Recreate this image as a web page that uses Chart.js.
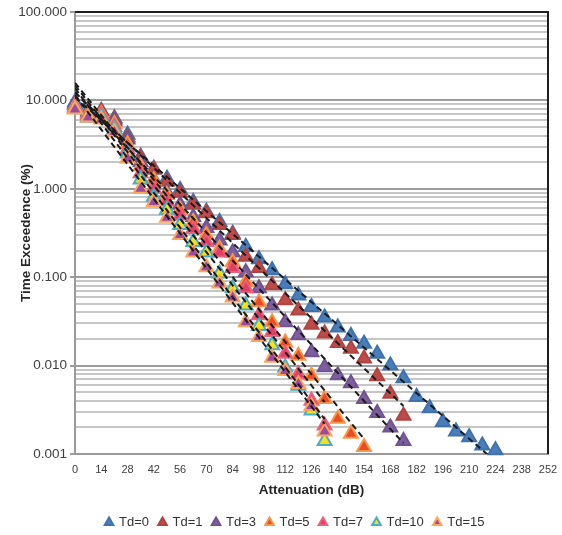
<!DOCTYPE html>
<html>
<head>
<meta charset="utf-8">
<script src="https://cdn.jsdelivr.net/npm/chart.js@4.4.0/dist/chart.umd.min.js"></script>
<style>
  html, body { margin: 0; padding: 0; background: #fff; }
</style>
</head>
<body>
<canvas id="attCanvas" width="562" height="535"></canvas>
<script>
const attenuationDb = [0, 7, 14, 21, 28, 35, 42, 49, 56, 63, 70, 77, 84, 91, 98, 105, 112, 119, 126, 133, 140, 147, 154, 161, 168, 175, 182, 189, 196, 203, 210, 217, 224];
const xTickValues = [0, 14, 28, 42, 56, 70, 84, 98, 112, 126, 140, 154, 168, 182, 196, 210, 224, 238, 252];
const yDecades = [0.001, 0.01, 0.1, 1, 10, 100];
const seriesNames = ["Td=0", "Td=1", "Td=3", "Td=5", "Td=7", "Td=10", "Td=15"];

// time exceedence (%) per series, one value every 7 dB from 0
const td0 = [9.5, 7.5, 7.6, 6.3, 4.1, 2.3, 1.69, 1.30, 0.97, 0.71, 0.55, 0.42, 0.31, 0.22, 0.16, 0.12, 0.083, 0.062, 0.046, 0.035, 0.027, 0.0216, 0.0177, 0.0136, 0.0100, 0.0072, 0.0044, 0.0033, 0.0023, 0.0018, 0.00155, 0.00125, 0.0011];
const td1 = [9.0, 7.2, 7.5, 6.1, 3.8, 2.25, 1.64, 1.20, 0.90, 0.66, 0.53, 0.39, 0.30, 0.17, 0.127, 0.081, 0.055, 0.042, 0.029, 0.023, 0.018, 0.0155, 0.012, 0.0076, 0.0048, 0.0027];
const td3 = [9.0, 6.4, 6.9, 5.8, 3.6, 2.0, 1.27, 0.90, 0.66, 0.48, 0.36, 0.26, 0.19, 0.114, 0.075, 0.048, 0.031, 0.022, 0.0142, 0.0096, 0.0078, 0.0063, 0.0042, 0.0029, 0.0020, 0.0014];
const td5 = [8.6, 7.0, 7.0, 5.4, 3.2, 1.8, 1.25, 0.85, 0.58, 0.42, 0.30, 0.21, 0.148, 0.088, 0.052, 0.031, 0.0183, 0.0129, 0.0077, 0.0042, 0.0025, 0.0017, 0.0012];
const td7 = [8.3, 6.8, 6.8, 5.0, 2.8, 1.5, 1.0, 0.72, 0.50, 0.35, 0.25, 0.19, 0.127, 0.075, 0.037, 0.024, 0.0136, 0.008, 0.0040, 0.0021];
const td10 = [8.0, 6.5, 6.4, 4.7, 2.5, 1.27, 0.81, 0.58, 0.39, 0.25, 0.19, 0.11, 0.075, 0.048, 0.028, 0.017, 0.0095, 0.0059, 0.0031, 0.0014];
const td15 = [7.9, 6.4, 6.1, 4.4, 2.2, 1.0, 0.71, 0.47, 0.30, 0.19, 0.13, 0.085, 0.059, 0.031, 0.021, 0.0123, 0.0087, 0.0062, 0.0035, 0.0018];
const seriesValues = [td0, td1, td3, td5, td7, td10, td15];

const markerFill = ["#4a7ebb", "#be4b48", "#7d5fa0", "#ec4c24", "#e23d62", "#f4e11a", "#9b4a9e"];
const markerEdge = ["#3f72ad", "#b04441", "#70548f", "#f79646", "#e9617c", "#4bacc6", "#f9a65c"];

Chart.defaults.font.family = "'Liberation Sans', Arial, sans-serif";

function isDecade(v) {
    const l = Math.log10(v);
    return Math.abs(l - Math.round(l)) < 1e-9;
}

// minor grid every 1..9 of each decade
const yGridValues = [];
yDecades.forEach((d, i) => {
    if (i === yDecades.length - 1) { yGridValues.push(d); return; }
    for (let k = 1; k <= 9; k++) yGridValues.push(+(d * k).toPrecision(6));
});

// exponential trendline, least squares on ln(y)
function expFit(xs, ys) {
    const n = ys.length;
    let sx = 0, sy = 0, sxx = 0, sxy = 0;
    for (let i = 0; i < n; i++) {
        const ly = Math.log(ys[i]);
        sx += xs[i]; sy += ly; sxx += xs[i] * xs[i]; sxy += xs[i] * ly;
    }
    const b = (n * sxy - sx * sy) / (n * sxx - sx * sx);
    const a = (sy - b * sx) / n;
    return x => Math.exp(a + b * x);
}

const markerSets = seriesValues.map((vals, i) => ({
    label: seriesNames[i],
    data: vals.map((v, j) => ({ x: attenuationDb[j], y: v })),
    pointStyle: "triangle",
    pointRadius: 8,
    pointHoverRadius: 8,
    pointBackgroundColor: markerFill[i],
    pointBorderColor: markerEdge[i],
    backgroundColor: markerFill[i],
    borderColor: markerEdge[i],
    pointBorderWidth: 2,
    showLine: false,
    clip: false,
    order: 20 - i
}));

const trendSets = seriesValues.map((vals, i) => {
    const xs = attenuationDb.slice(0, vals.length);
    const f = expFit(xs, vals);
    const xEnd = xs[xs.length - 1];
    return {
        label: "trend " + seriesNames[i],
        data: [{ x: 0, y: f(0) }, { x: xEnd, y: f(xEnd) }],
        showLine: true,
        borderColor: "#1b1b1b",
        borderWidth: 2,
        borderDash: [6, 4],
        pointRadius: 0,
        fill: false,
        order: 1
    };
});

const frame = {
    id: "frame",
    afterLayout(chart) {
        const lg = chart.legend;
        lg.left += 21; lg.right += 21;
        lg.top += 4; lg.bottom += 4;
    },
    beforeDatasetsDraw(chart) {
        const a = chart.chartArea, c = chart.ctx;
        c.save();
        c.strokeStyle = "#1e1e1e";
        c.lineWidth = 2;
        c.beginPath();
        c.moveTo(a.left, a.top);
        c.lineTo(a.right, a.top);
        c.lineTo(a.right, a.bottom);
        c.stroke();
        c.restore();
    }
};

const attCanvas = document.getElementById("attCanvas");

const attChart = new Chart(attCanvas, {
    type: "scatter",
    data: { datasets: markerSets.concat(trendSets) },
    plugins: [frame],
    options: {
        responsive: false,
        animation: false,
        layout: { padding: { top: 12, right: 14, bottom: 0, left: 0 } },
        plugins: {
            tooltip: { enabled: false },
            legend: {
                position: "bottom",
                labels: {
                    usePointStyle: true,
                    boxWidth: 7,
                    boxHeight: 7,
                    padding: 10,
                    color: "#333",
                    font: { size: 13 },
                    filter: item => item.datasetIndex < seriesNames.length,
                    sort: (a, b) => a.datasetIndex - b.datasetIndex
                }
            }
        },
        scales: {
            x: {
                type: "linear",
                min: 0,
                max: 252,
                afterBuildTicks: s => { s.ticks = xTickValues.map(v => ({ value: v })); },
                afterFit: s => { s.height = 48; },
                ticks: { autoSkip: false, maxRotation: 0, color: "#404040", font: { size: 11 }, padding: 4 },
                grid: { drawOnChartArea: false, tickLength: 5, tickColor: "rgba(0,0,0,0)" },
                border: { color: "#9a9a9a", width: 2 },
                title: {
                    display: true,
                    text: "Attenuation (dB)",
                    color: "#262626",
                    font: { size: 13.5, weight: "bold" },
                    padding: { top: 4, bottom: 4 }
                }
            },
            y: {
                type: "logarithmic",
                min: 0.001,
                max: 100,
                afterBuildTicks: s => { s.ticks = yGridValues.map(v => ({ value: v })); },
                afterFit: s => { s.width = 75; },
                ticks: {
                    autoSkip: false,
                    color: "#404040",
                    font: { size: 13.5 },
                    padding: 3,
                    callback: v => isDecade(v) ? Number(v).toFixed(3) : ""
                },
                grid: {
                    color: ctx => ctx.tick && isDecade(ctx.tick.value) ? "#9c9c9c" : "#c6c6c6",
                    lineWidth: 2,
                    tickLength: 5,
                    tickColor: ctx => ctx.tick && isDecade(ctx.tick.value) ? "#9c9c9c" : "rgba(0,0,0,0)"
                },
                border: { color: "#9a9a9a", width: 2 },
                title: {
                    display: true,
                    text: "Time Exceedence (%)",
                    color: "#262626",
                    font: { size: 13.5, weight: "bold" },
                    padding: { top: 18, bottom: 0 }
                }
            }
        }
    }
});
</script>
</body>
</html>
